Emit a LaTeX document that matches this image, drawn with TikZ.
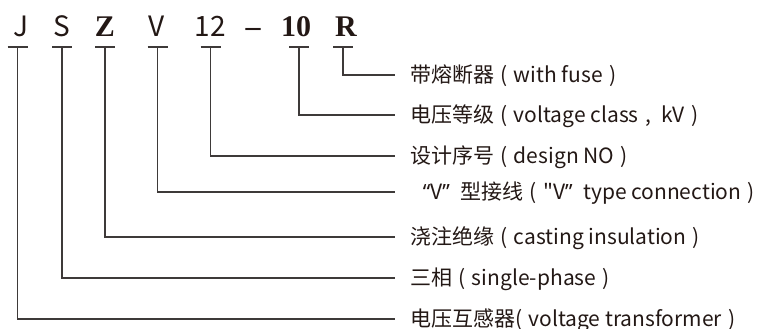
\documentclass[tikz,border=0pt]{standalone}
\usepackage{fontspec}
\newfontfamily\cjk{Noto Sans CJK SC}
\newfontfamily\latq{Noto Sans}
\newfontfamily\bser{Liberation Serif}[UprightFont=*, BoldFont=* Bold]
\definecolor{linec}{HTML}{3E3A39}
\definecolor{txtc}{HTML}{231815}
\newcommand{\lpar}{\hspace{0.3em}(\hspace{0.3em}}
\newcommand{\rpar}{\hspace{0.3em})}
\begin{document}
\begin{tikzpicture}[x=1pt,y=-1pt,
  lab/.style={anchor=base west, inner sep=0pt, text=txtc, font=\cjk\fontsize{21}{21}\selectfont},
  sansletter/.style={anchor=base, inner sep=0pt, text=txtc, font=\cjk\fontsize{28}{28}\selectfont},
  serifletter/.style={anchor=base, inner sep=0pt, text=txtc, font=\bser\bfseries\fontsize{30}{30}\selectfont},
  conn/.style={draw=linec, line width=1.1pt},
]
\useasboundingbox (0,0) rectangle (766,329);
% code letters
\node[sansletter] (J) at (21,37) {J};
\node[sansletter] (S) at (62,37) {S};
\node[serifletter] (Z) at (105,37) {Z};
\node[sansletter] (V) at (157,37) {V};
\node[sansletter] (N12) at (210,37) {12};
\node[serifletter] (dash) at (253,37) {–};
\node[serifletter] (N10) at (296,37) {10};
\node[serifletter] (R) at (346,37) {R};
% bar points
\coordinate (bJ) at (17.5,47);
\coordinate (bS) at (62,47);
\coordinate (bZ) at (105,47);
\coordinate (bV) at (157.5,47);
\coordinate (b12) at (210.5,47);
\coordinate (b10) at (299,47);
\coordinate (bR) at (343,47);
\foreach \b in {bJ,bS,bZ,bV,b12,b10,bR}
  \draw[conn] ([xshift=-10pt]\b) -- ([xshift=10pt]\b);
% labels
\node[lab] (lR) at (410,82.5) {带熔断器\lpar with fuse\rpar};
\node[lab] (l10) at (410,122.5) {电压等级\lpar voltage class\hspace{0.3em},\hspace{0.5em}kV\rpar};
\node[lab] (l12) at (410,163.5) {设计序号\lpar design NO\rpar};
\node[lab] (lV) at (410,199.5) {\hspace{0.6em}{\latq “}V{\latq ”}\hspace{0.5em}型接线\lpar "V{\latq ”}\hspace{0.5em}type connection\rpar};
\node[lab] (lZ) at (410,244.5) {浇注绝缘\lpar casting insulation\rpar};
\node[lab] (lS) at (410,285.5) {三相\lpar single-phase\rpar};
\node[lab] (lJ) at (410,326) {电压互感器(\hspace{0.3em}voltage transformer\rpar};
% connector ends
\coordinate (eR) at (395,75);
\coordinate (e10) at (395,115);
\coordinate (e12) at (395,156);
\coordinate (eV) at (395,192);
\coordinate (eZ) at (395,237);
\coordinate (eS) at (395,278);
\coordinate (eJ) at (395,319);
\draw[conn] (bR) |- (eR);
\draw[conn] (b10) |- (e10);
\draw[conn] (b12) |- (e12);
\draw[conn] (bV) |- (eV);
\draw[conn] (bZ) |- (eZ);
\draw[conn] (bS) |- (eS);
\draw[conn] (bJ) |- (eJ);
\end{tikzpicture}
\end{document}
